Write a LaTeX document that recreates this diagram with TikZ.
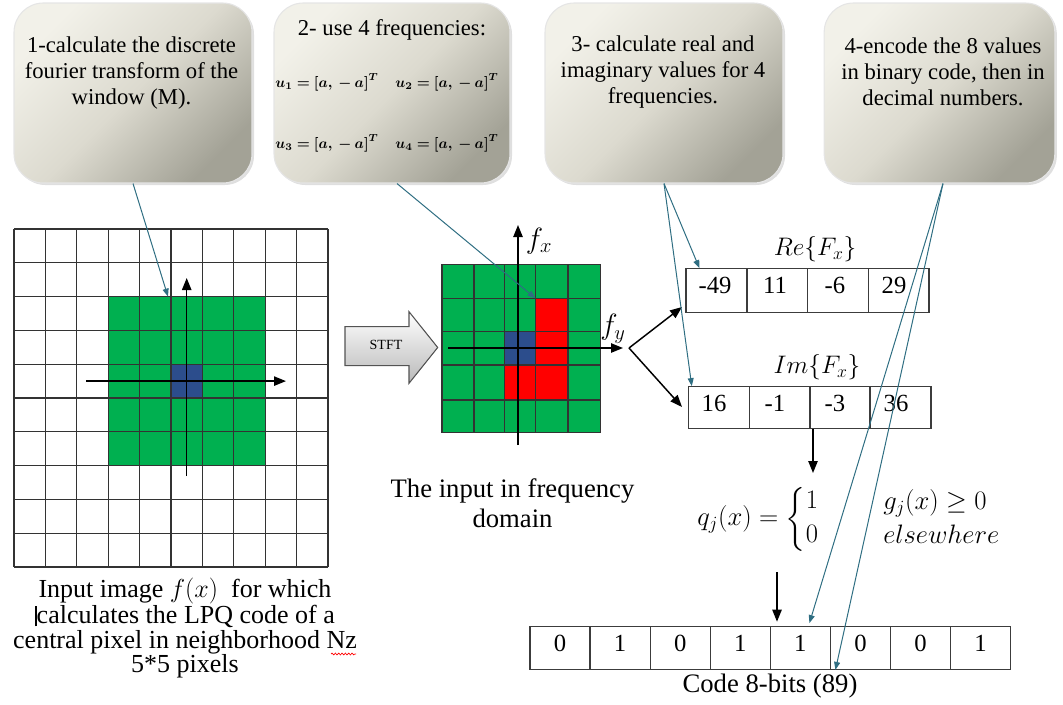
\RequirePackage{fix-cm}
\documentclass[tikz,border=0pt]{standalone}
\usepackage{amsmath,amssymb,bm}
\usepackage{fontspec}
\setmainfont{Liberation Serif}
\newfontfamily\timesfont{Liberation Serif}
\usetikzlibrary{arrows.meta,shadows,decorations.pathmorphing,calc}
\definecolor{tealc}{RGB}{47,110,130}
\definecolor{gridgreen}{RGB}{0,176,80}
\definecolor{cellblue}{RGB}{44,77,140}
\definecolor{cellred}{RGB}{255,0,0}
\definecolor{boxlight}{RGB}{242,241,233}
\definecolor{boxmid}{RGB}{220,218,207}
\definecolor{boxdark}{RGB}{163,162,150}
\definecolor{linegray}{RGB}{60,60,60}
\begin{document}
\begin{tikzpicture}[x=0.75pt,y=-0.75pt,
  callout/.style={draw=white!80!gray, line width=0.8pt, rounded corners=22pt,
     top color=boxlight, bottom color=boxdark, middle color=boxmid, shading angle=45,
     minimum width=#1, minimum height=135pt, inner sep=0pt,
     drop shadow={opacity=0.25, shadow xshift=1.5pt, shadow yshift=-1.5pt}},
  calltext/.style={align=center, font=\timesfont\fontsize{17}{19.5}\selectfont, inner sep=0pt},
  uform/.style={font=\fontsize{11}{12}\selectfont, inner sep=0pt},
  tealarrow/.style={draw=tealc, line width=0.75pt, -{Triangle[length=6pt,width=4.5pt]}},
  blackarrow/.style={draw=black, line width=1.1pt, -{Triangle[length=9pt,width=7pt]}},
  gridline/.style={draw=black!80, line width=0.9pt},
  cellbox/.style={draw=linegray, line width=0.9pt, minimum width=#1, inner sep=0pt},
  cellline/.style={draw=linegray, line width=0.9pt},
  digit/.style={font=\timesfont\fontsize{18.5}{20}\selectfont, inner sep=0pt},
  bigtext/.style={font=\timesfont\fontsize{20}{22.5}\selectfont, align=center, inner sep=0pt},
  mathlab/.style={font=\fontsize{19}{22}\selectfont, inner sep=0pt},
  mathbig/.style={font=\fontsize{20}{24}\selectfont, inner sep=0pt},
]
\useasboundingbox (0,0) rectangle (1063,704);

% ---------- callout boxes ----------
\node[callout=178.5pt] (b1) at (133,93) {};
\node[callout=177pt] (b2) at (392,93) {};
\node[callout=178.5pt] (b3) at (664,93) {};
\node[callout=173pt] (b4) at (939.5,93) {};
\node[calltext] (t1) at (131.5,73) {1-calculate the discrete\\fourier transform of the\\window (M).};
\node[calltext] (t2) at (392,30) {2- use 4 frequencies:};
\node[uform] (u1) at (327,82) {$\bm{u_1=[a,{}-a]^T}$};
\node[uform] (u2) at (447,82) {$\bm{u_2=[a,{}-a]^T}$};
\node[uform] (u3) at (327,143) {$\bm{u_3=[a,{}-a]^T}$};
\node[uform] (u4) at (447,143) {$\bm{u_4=[a,{}-a]^T}$};
\node[calltext] (t3) at (663,72) {3- calculate real and\\imaginary values for 4\\frequencies.};
\node[calltext] (t4) at (943,72) {4-encode the 8 values\\in binary code, then in\\decimal numbers.};

% ---------- left 10x10 grid ----------
\fill[gridgreen] (108.2,296.6) rectangle (265.2,465.6);
\fill[cellblue] (171,364.2) rectangle (202.4,398);
\foreach \i in {0,...,10} {
  \draw[gridline] ({14+\i*31.4},229) -- ({14+\i*31.4},567);
  \draw[gridline] (14,{229+\i*33.8}) -- (328,{229+\i*33.8});
}
\coordinate (la1) at (186.7,476);
\coordinate (la2) at (186.7,278);
\coordinate (lh1) at (86,381.1);
\coordinate (lh2) at (286,381.1);
\draw[blackarrow] (la1) -- (la2);
\draw[blackarrow] (lh1) -- (lh2);
\coordinate (g1) at (168,296.6);

% ---------- STFT arrow ----------
\draw[draw=gray!65!black, line width=0.8pt, top color=white, bottom color=gray!55]
  (345,326.7) -- (409,326.7) -- (409,311.7) -- (437.7,347.5) -- (409,383.3)
  -- (409,365.7) -- (345,365.7) -- cycle;
\node[font=\timesfont\fontsize{10.5}{12}\selectfont, inner sep=0pt] (stft) at (386,345) {STFT};

% ---------- middle 5x5 grid ----------
\fill[gridgreen] (442,264.3) rectangle (600.5,432.7);
\fill[cellred] (535.5,298.3) rectangle (568,400);
\fill[cellred] (504.5,365) rectangle (535.5,400);
\fill[cellblue] (504.5,331.7) rectangle (535.5,365);
\foreach \x in {442,474,504.5,535.5,568,600.5}
  \draw[gridline] (\x,264.3) -- (\x,432.7);
\foreach \y in {264.3,298.3,331.7,365,400,432.7}
  \draw[gridline] (442,\y) -- (600.5,\y);
\coordinate (ma1) at (518,445);
\coordinate (ma2) at (518,225);
\coordinate (mh1) at (448,348);
\coordinate (mh2) at (623,348);
\draw[blackarrow] (ma1) -- (ma2);
\draw[blackarrow] (mh1) -- (mh2);
\node[mathlab, font=\fontsize{22}{24}\selectfont] (fx) at (539,241) {$f_x$};
\node[mathlab, font=\fontsize{22}{24}\selectfont] (fy) at (613,329) {$f_y$};
\coordinate (g2) at (535.5,298.3);
\node[bigtext] (freq) at (512.5,503) {The input in frequency\\domain};

% ---------- branch ----------
\coordinate (br) at (629,348);
\coordinate (bre) at (682,307);
\coordinate (bim) at (682,407);
\draw[blackarrow] (br) -- (bre);
\draw[blackarrow] (br) -- (bim);

% ---------- Re / Im boxes ----------
\node[mathlab] (relab) at (815,249) {$Re\{F_x\}$};
\node[cellbox=182.25pt, minimum height=32.7pt] (re) at (807.5,290.5) {};
\foreach \x in {747,807.3,868.3} \draw[cellline] (\x,268.7) -- (\x,312.3);
\node[digit] (r1) at (715,285) {-49};
\node[digit] (r2) at (775,285) {11};
\node[digit] (r3) at (835,285) {-6};
\node[digit] (r4) at (894,285) {29};

\node[mathlab] (imlab) at (817,367) {$Im\{F_x\}$};
\node[cellbox=182pt, minimum height=31.5pt] (im) at (809.7,407.7) {};
\foreach \x in {749.3,810,870} \draw[cellline] (\x,386.7) -- (\x,428.7);
\node[digit] (i1) at (714,403) {16};
\node[digit] (i2) at (775,403) {-1};
\node[digit] (i3) at (835,403) {-3};
\node[digit] (i4) at (896,403) {36};

\coordinate (d1) at (813,473);
\draw[blackarrow] (im.south -| d1) -- (d1);

% ---------- quantisation formula ----------
\node[mathbig, anchor=west] (qf) at (697,519)
  {$q_j(x) = \left\{\begin{array}{@{}l@{}}1\\[2pt]0\end{array}\right.$};
\node[mathbig, anchor=west] (cond) at (883,520)
  {$\begin{array}{@{}l@{}} g_j(x)\ge 0\\[2pt] elsewhere\end{array}$};

\coordinate (d2a) at (777,572);
\coordinate (d2b) at (777,621.7);
\draw[blackarrow] (d2a) -- (d2b);

% ---------- code box ----------
\node[cellbox=360.5pt, minimum height=32pt] (code) at (770.35,648) {};
\foreach \i in {1,...,7} \draw[cellline] ({530+60.09*\i},626.7) -- ({530+60.09*\i},669.3);
\foreach \v [count=\i from 0] in {0,1,0,1,1,0,0,1}
  \node[digit] (c\i) at ({560+60.09*\i},643) {\v};
\node[bigtext] (codelab) at (770,686) {Code 8-bits (89)};

% ---------- bottom-left caption ----------
\node[bigtext, font=\timesfont\fontsize{19.5}{18.3}\selectfont] (cap) at (185,628)
  {Input image $f(x)$\ \ for which\\
   \rule[-2pt]{1.2pt}{15pt}calculates the LPQ code of a\\
   central pixel in neighborhood Nz\\
   5*5 pixels};
\coordinate (wv1) at (331,654);
\coordinate (wv2) at (356,654);
\draw[red, line width=0.5pt, decorate, decoration={snake, amplitude=0.7pt, segment length=2.5pt}] (wv1) -- (wv2);

% ---------- teal connectors ----------
\draw[tealarrow] (b1.south) -- (g1);
\draw[tealarrow] ($(b2.south)+(5,0)$) -- (g2);
\draw[tealarrow] (b3.south) -- ($(re.north west)+(14,0)$);
\draw[tealarrow] (b3.south) -- ($(im.north west)+(4,0)$);
\draw[tealarrow] ($(b4.south)+(3.5,0)$) -- ($(code.north west)+(280,-3)$);
\draw[tealarrow] ($(b4.south)+(3.5,0)$) -- ($(code.south west)+(306,0)$);
\end{tikzpicture}
\end{document}
